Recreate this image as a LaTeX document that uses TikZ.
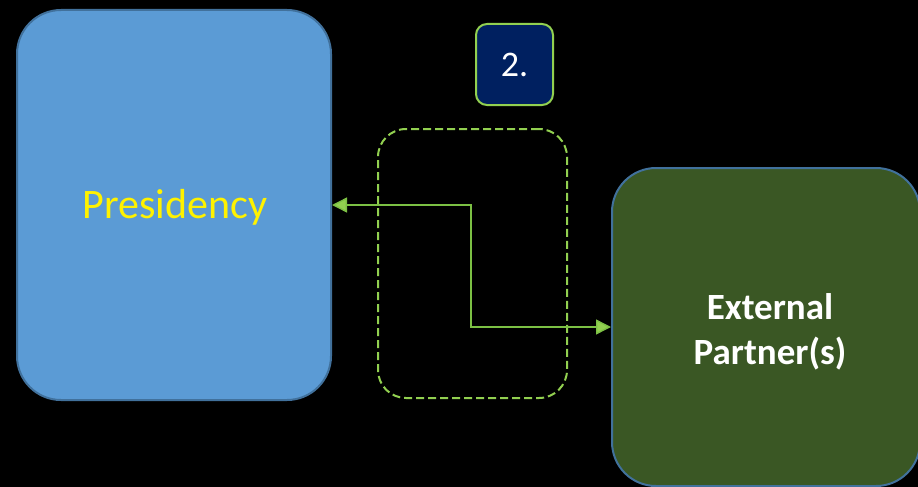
\documentclass[tikz,border=0pt]{standalone}
\usepackage{fontspec}
\setmainfont{Carlito}
\usetikzlibrary{arrows.meta,positioning}
\definecolor{presblue}{HTML}{5B9BD5}
\definecolor{edgeblue}{HTML}{41719C}
\definecolor{extgreen}{HTML}{3A5724}
\definecolor{limegreen}{HTML}{92D050}
\definecolor{linkgreen}{HTML}{7CC044}
\definecolor{navy}{HTML}{002060}
\begin{document}
\begin{tikzpicture}[x=1pt,y=-1pt,
  bigbox/.style={rectangle,draw=edgeblue,line width=2pt,rounded corners=44pt},
  link/.style={draw=linkgreen,line width=1.4pt,{Triangle[length=15pt,width=15pt,fill=limegreen]}-{Triangle[length=15pt,width=15pt,fill=limegreen]}}]
\fill[black] (0,0) rectangle (918,487);
\useasboundingbox (0,0) rectangle (918,487);
\node[bigbox,fill=presblue,minimum width=314pt,minimum height=390pt] (pres) at (174,205) {};
\node[text=yellow,font=\fontsize{42}{48}\selectfont] (prestext) at (175,207) {Presidency};
\node[bigbox,fill=extgreen,minimum width=308pt,minimum height=318pt] (ext) at (766,327) {};
\node[text=white,align=center,font=\bfseries\fontsize{37}{45}\selectfont] (exttext) at (770,332) {External\\Partner(s)};
\node[rectangle,draw=limegreen,line width=2pt,fill=navy,rounded corners=11pt,
  minimum width=77pt,minimum height=81pt,text=white,
  font=\fontsize{36}{42}\selectfont] (num) at (514.5,64.5) {2.};
\node[rectangle,draw=limegreen,dashed,dash pattern=on 8pt off 4pt,line width=2pt,
  rounded corners=28pt,minimum width=189pt,minimum height=269pt] (zone) at (472.5,263.5) {};
\coordinate (bend) at (471,0);
\draw[link] (pres.east) -| (bend |- ext.west) -- (ext.west);
\end{tikzpicture}
\end{document}
